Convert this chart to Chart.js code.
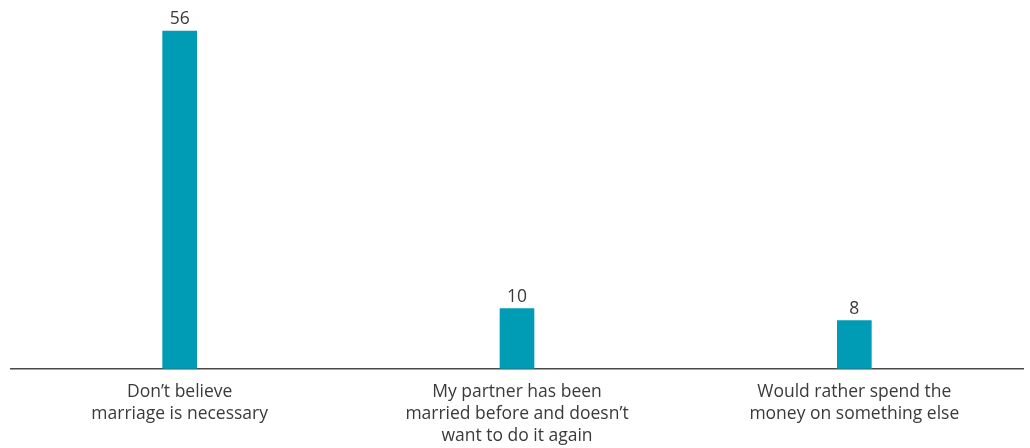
<!DOCTYPE html>
<html>
<head>
<meta charset="utf-8">
<script src="https://cdn.jsdelivr.net/npm/chart.js@4"></script>
<style>
  html, body { margin: 0; padding: 0; background: #fff; }
  #wrap { width: 1030px; height: 448px; }
</style>
</head>
<body>
<div id="wrap"><canvas id="bar-chartcanvas"></canvas></div>
<script>
var categories = [
	["Don\u2019t believe", "marriage is necessary"],
	["My partner has been", "married before and doesn\u2019t", "want to do it again"],
	["Would rather spend the", "money on something else"]
];
var values = [56, 10, 8];

var textColor = "#3a3a3a";
var fontFamily = "'Open Sans', 'Noto Sans', sans-serif";

// draws the number above each bar
var valueLabels = {
	id: "valueLabels",
	afterDatasetsDraw: function(chart) {
		var ctx = chart.ctx;
		var meta = chart.getDatasetMeta(0);
		ctx.save();
		ctx.font = "17.5px " + fontFamily;
		ctx.fillStyle = textColor;
		ctx.textAlign = "center";
		ctx.textBaseline = "bottom";
		meta.data.forEach(function(bar, i) {
			ctx.fillText(values[i], bar.x, bar.y - 3);
		});
		ctx.restore();
	}
};

var ctx = document.getElementById("bar-chartcanvas");

var data = {
	labels: categories,
	datasets: [
		{
			data: values,
			backgroundColor: "#009bb4",
			barThickness: 34
		}
	]
};

var options = {
	responsive: true,
	maintainAspectRatio: false,
	animation: false,
	layout: {
		padding: { top: 7, left: 11, right: 7, bottom: -11 }
	},
	plugins: {
		legend: { display: false },
		tooltip: { enabled: false }
	},
	scales: {
		x: {
			grid: { display: false, drawTicks: false },
			border: { display: true, color: "#4a4a4a", width: 1.5 },
			ticks: {
				color: textColor,
				padding: 12,
				maxRotation: 0,
				autoSkip: false,
				font: { family: fontFamily, size: 17.5, lineHeight: 1.26 }
			}
		},
		y: {
			display: false,
			min: 0,
			max: 60
		}
	}
};

var chart = new Chart(ctx, {
	type: "bar",
	data: data,
	options: options,
	plugins: [valueLabels]
});
</script>
</body>
</html>
